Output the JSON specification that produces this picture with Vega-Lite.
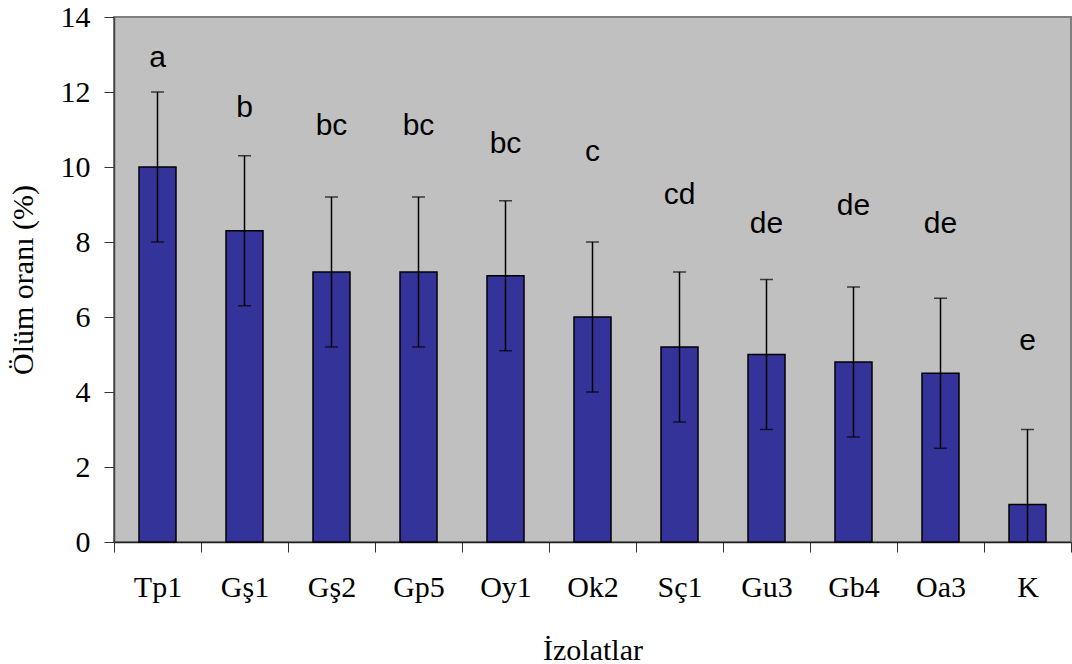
{
  "$schema": "https://vega.github.io/schema/vega-lite/v6.json",
  "width": 957,
  "height": 525,
  "autosize": "none",
  "padding": {"left": 114, "top": 17, "right": 1, "bottom": 122},
  "background": "white",
  "config": {
    "view": {"fill": "#C0C0C0", "stroke": "#808080", "strokeWidth": 2},
    "axis": {"grid": false}
  },
  "data": {
    "values": [
      {"izolat": "Tp1", "oran": 10.0, "lo": 8.0, "hi": 12.0, "harf": "a", "harf_y": 12.67},
      {"izolat": "Gş1", "oran": 8.3, "lo": 6.3, "hi": 10.3, "harf": "b", "harf_y": 11.34},
      {"izolat": "Gş2", "oran": 7.2, "lo": 5.2, "hi": 9.2, "harf": "bc", "harf_y": 10.85},
      {"izolat": "Gp5", "oran": 7.2, "lo": 5.2, "hi": 9.2, "harf": "bc", "harf_y": 10.85},
      {"izolat": "Oy1", "oran": 7.1, "lo": 5.1, "hi": 9.1, "harf": "bc", "harf_y": 10.38},
      {"izolat": "Ok2", "oran": 6.0, "lo": 4.0, "hi": 8.0, "harf": "c", "harf_y": 10.17},
      {"izolat": "Sç1", "oran": 5.2, "lo": 3.2, "hi": 7.2, "harf": "cd", "harf_y": 9.01},
      {"izolat": "Gu3", "oran": 5.0, "lo": 3.0, "hi": 7.0, "harf": "de", "harf_y": 8.23},
      {"izolat": "Gb4", "oran": 4.8, "lo": 2.8, "hi": 6.8, "harf": "de", "harf_y": 8.72},
      {"izolat": "Oa3", "oran": 4.5, "lo": 2.5, "hi": 6.5, "harf": "de", "harf_y": 8.23},
      {"izolat": "K", "oran": 1.0, "lo": -1.0, "hi": 3.0, "harf": "e", "harf_y": 5.12}
    ]
  },
  "encoding": {
    "x": {
      "field": "izolat",
      "type": "nominal",
      "sort": null,
      "scale": {"paddingInner": 0, "paddingOuter": 0},
      "axis": {
        "title": "İzolatlar",
        "titleFont": "Liberation Serif",
        "titleFontSize": 30,
        "titleFontWeight": "normal",
        "titleColor": "black",
        "titlePadding": 33,
        "labelFont": "Liberation Serif",
        "labelFontSize": 30,
        "labelColor": "black",
        "labelAngle": 0,
        "labelPadding": 20,
        "tickBand": "extent",
        "tickSize": 10,
        "tickColor": "#333333",
        "domainColor": "#222222",
        "domainWidth": 1.5
      }
    }
  },
  "layer": [
    {
      "mark": {"type": "bar", "width": 37, "fill": "#333399", "stroke": "black", "strokeWidth": 1.5},
      "encoding": {
        "y": {
          "field": "oran",
          "type": "quantitative",
          "scale": {"domain": [0, 14], "nice": false},
          "axis": {
            "title": "Ölüm oranı (%)",
            "values": [0, 2, 4, 6, 8, 10, 12, 14],
            "titleFont": "Liberation Serif",
            "titleFontSize": 30,
            "titleFontWeight": "normal",
            "titleColor": "black",
            "titlePadding": 22,
            "labelFont": "Liberation Serif",
            "labelFontSize": 30,
            "labelColor": "black",
            "labelPadding": 14,
            "tickSize": 10,
            "tickColor": "#333333",
            "domainColor": "#444444",
            "domainWidth": 1.5
          }
        }
      }
    },
    {
      "mark": {"type": "rule", "color": "black", "strokeWidth": 1.5, "clip": true},
      "encoding": {
        "y": {"field": "lo", "type": "quantitative"},
        "y2": {"field": "hi"}
      }
    },
    {
      "mark": {"type": "tick", "color": "black", "size": 13, "thickness": 1.5, "clip": true},
      "encoding": {"y": {"field": "lo", "type": "quantitative"}}
    },
    {
      "mark": {"type": "tick", "color": "black", "size": 13, "thickness": 1.5, "clip": true},
      "encoding": {"y": {"field": "hi", "type": "quantitative"}}
    },
    {
      "mark": {"type": "text", "font": "Liberation Sans", "fontSize": 30, "baseline": "alphabetic", "align": "center", "color": "black"},
      "encoding": {
        "y": {"field": "harf_y", "type": "quantitative"},
        "text": {"field": "harf"}
      }
    }
  ]
}
